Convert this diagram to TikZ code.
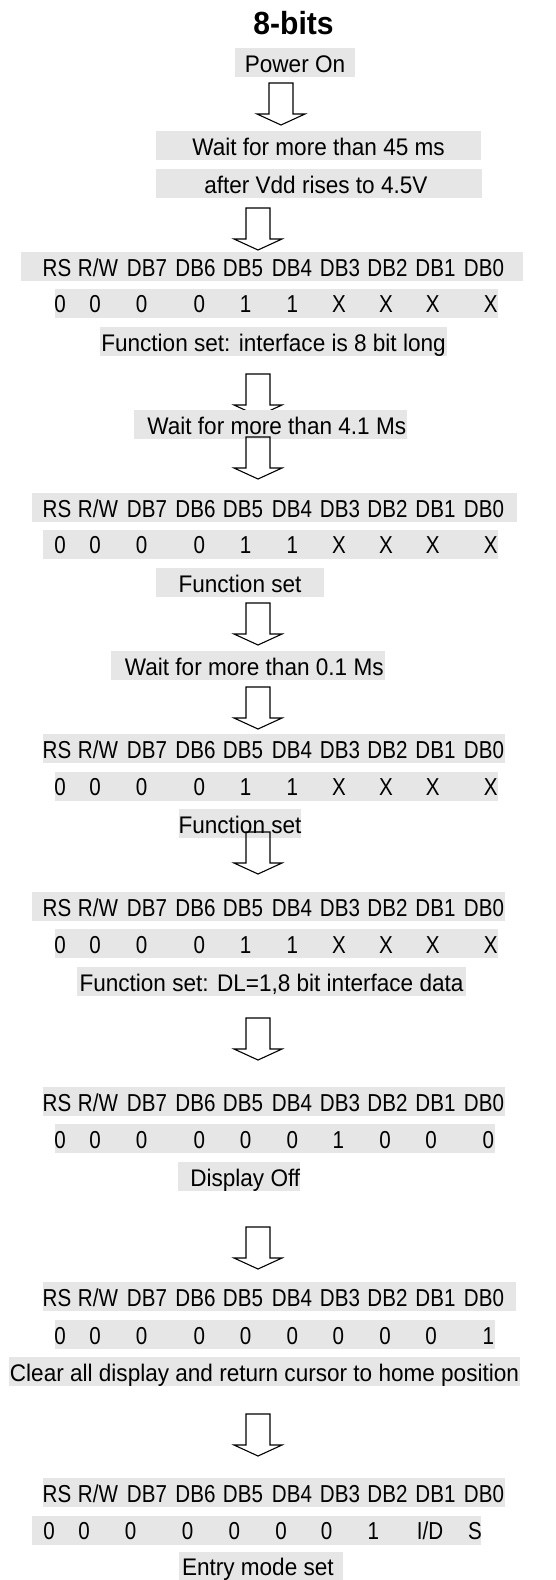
\documentclass[tikz,border=0pt]{standalone}
\usepackage{fontspec}
\setmainfont{Liberation Sans}[FakeStretch=0.94]
\newfontfamily\bitfont{Liberation Sans}[FakeStretch=0.84]
\usepackage{tikz}
\usetikzlibrary{positioning, calc}
\definecolor{barcolor}{RGB}{230, 230, 230}
\definecolor{inkcolor}{RGB}{0, 0, 0}

% header of a command row
\newcommand{\bitheader}[1]{%
  \foreach \x/\t [count=\i] in {57/RS, 98/{R/W}, 147/DB7, 195.5/DB6, 243/DB5, 292/DB4, 340/DB3, 387.5/DB2, 435.5/DB1, 484/DB0}
    \node[bit] (#1-\i) at (\x,0 |- #1.base) {\t};}

\begin{document}
\begin{tikzpicture}[x=1pt, y=-1pt,
    bar/.style={fill=barcolor, inner sep=0pt, minimum height=29pt, text height=24pt, text depth=5pt, font=\fontsize{24}{28}\selectfont},
    bit/.style={anchor=base, inner sep=0pt, font=\bitfont\fontsize{24.5}{28}\selectfont},
    blockarrow/.pic={\draw[inkcolor, line width=1.1pt] (-12,0) -- (12,0) -- (12,31) -- (24,31) -- (0,42) -- (-24,31) -- (-12,31) -- cycle;}]
        \useasboundingbox (0,0) rectangle (555,1580);

        % Title
        \node[anchor=base, font=\fontsize{32}{36}\selectfont\bfseries] (title) at (293.5,34) {8-bits};

        % Power on
        \node[bar, minimum width=120pt] (power) at (295,62.5) {Power On};
        \pic at (281,83) {blockarrow};
        \node[bar, minimum width=325pt] (wait45) at (318.5,145.5) {Wait for more than 45 ms};
        \node[bar, minimum width=326pt] (vdd) at (319,183.5) {after Vdd rises to 4.5V\ \ };
        \pic at (258,208) {blockarrow};

        % Function set 1
        \node[bar, minimum width=502pt] (hdrA) at (272,266.5) {};
        \bitheader{hdrA}
        \node[bar, minimum width=443pt] (valA) at (276.5,303) {};
        \foreach \x/\v [count=\i] in {60/0, 95/0, 141.7/0, 199.3/0, 245.7/1, 292.3/1, 339/X, 386/X, 432.7/X, 490.7/X}
            \node[bit] (valA-\i) at (\x,0 |- valA.base) {\v};
        \node[bar, minimum width=347pt] (fsA) at (273.5,341.5) {Function set: interface is 8 bit long};
        \pic at (258,374) {blockarrow};
        \node[bar, minimum width=273pt] (wait41) at (270.5,424.5) {\ \ Wait for more than 4.1 Ms};
        \pic at (258,437) {blockarrow};

        % Function set 2
        \node[bar, minimum width=485pt] (hdrB) at (274.5,507.5) {};
        \bitheader{hdrB}
        \node[bar, minimum width=455pt] (valB) at (270.5,544) {};
        \foreach \x/\v [count=\i] in {60/0, 95/0, 141.7/0, 199.3/0, 245.7/1, 292.3/1, 339/X, 386/X, 432.7/X, 490.7/X}
            \node[bit] (valB-\i) at (\x,0 |- valB.base) {\v};
        \node[bar, minimum width=168pt] (fsB) at (240,582.5) {Function set};
        \pic at (258,603) {blockarrow};
        \node[bar, minimum width=274pt] (wait01) at (248,665.5) {\ \ Wait for more than 0.1 Ms};
        \pic at (258,687) {blockarrow};

        % Function set 3
        \node[bar, minimum width=462pt] (hdrC) at (274,748.5) {};
        \bitheader{hdrC}
        \node[bar, minimum width=443pt] (valC) at (276.5,786) {};
        \foreach \x/\v [count=\i] in {60/0, 95/0, 141.7/0, 199.3/0, 245.7/1, 292.3/1, 339/X, 386/X, 432.7/X, 490.7/X}
            \node[bit] (valC-\i) at (\x,0 |- valC.base) {\v};
        \node[bar, minimum width=122pt] (fsC) at (240,823.5) {Function set};
        \pic at (258,832) {blockarrow};

        % Function set 4
        \node[bar, minimum width=473pt] (hdrD) at (268.5,906.5) {};
        \bitheader{hdrD}
        \node[bar, minimum width=443pt] (valD) at (276.5,943.5) {};
        \foreach \x/\v [count=\i] in {60/0, 95/0, 141.7/0, 199.3/0, 245.7/1, 292.3/1, 339/X, 386/X, 432.7/X, 490.7/X}
            \node[bit] (valD-\i) at (\x,0 |- valD.base) {\v};
        \node[bar, minimum width=389pt] (fsD) at (271.5,981.5) {Function set: DL=1,8 bit interface data};
        \pic at (258,1018) {blockarrow};

        % Display off
        \node[bar, minimum width=462pt] (hdrE) at (274,1101.5) {};
        \bitheader{hdrE}
        \node[bar, minimum width=440pt] (valE) at (275,1138.5) {};
        \foreach \x/\v [count=\i] in {60/0, 95/0, 141.7/0, 199.3/0, 245.7/0, 292.3/0, 338.3/1, 385/0, 431/0, 488.3/0}
            \node[bit] (valE-\i) at (\x,0 |- valE.base) {\v};
        \node[bar, minimum width=120pt] (dispoff) at (239,1176.5) {\ \ Display Off};
        \pic at (258,1227) {blockarrow};

        % Clear display
        \node[bar, minimum width=473pt] (hdrF) at (279.5,1296.5) {};
        \bitheader{hdrF}
        \node[bar, minimum width=440pt] (valF) at (275,1334.5) {};
        \foreach \x/\v [count=\i] in {60/0, 95/0, 141.7/0, 199.3/0, 245.7/0, 292.3/0, 338.3/0, 385/0, 431/0, 488.3/1}
            \node[bit] (valF-\i) at (\x,0 |- valF.base) {\v};
        \node[bar, minimum width=511pt] (clear) at (264.5,1371.5) {Clear all display and return cursor to home position};
        \pic at (258,1414) {blockarrow};

        % Entry mode
        \node[bar, minimum width=462pt] (hdrG) at (274,1492.5) {};
        \bitheader{hdrG}
        \node[bar, minimum width=449pt] (valG) at (256.5,1530) {};
        \foreach \x/\v [count=\i] in {49/0, 84/0, 130.7/0, 187.7/0, 234.3/0, 281/0, 326.7/0, 373.3/1, 430/{I/D}, 475/S}
            \node[bit] (valG-\i) at (\x,0 |- valG.base) {\v};
        \node[bar, minimum width=164pt] (entry) at (261,1566) {Entry mode set\ \ };
    \end{tikzpicture}
\end{document}
